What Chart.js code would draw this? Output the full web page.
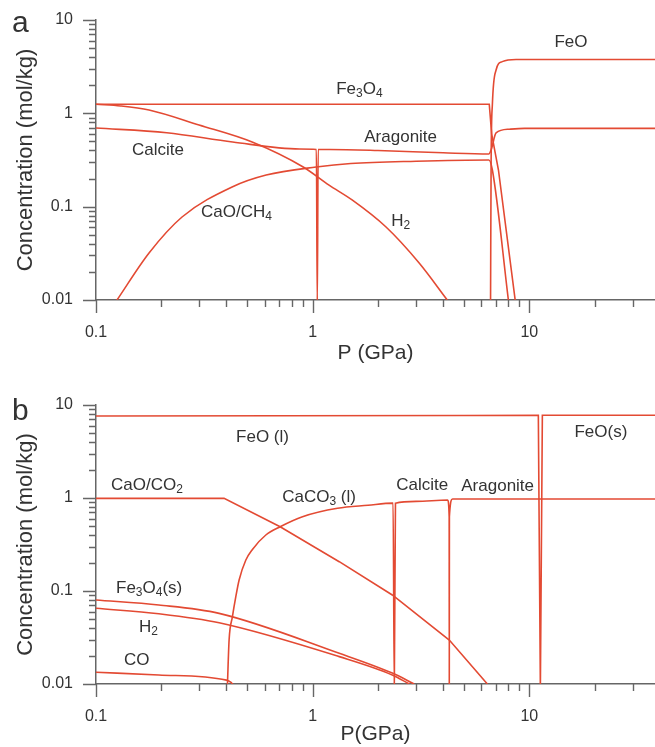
<!DOCTYPE html>
<html>
<head>
<meta charset="utf-8">
<script src="https://cdn.jsdelivr.net/npm/chart.js@4.4.0/dist/chart.umd.min.js"></script>
<style>
body { margin: 0; background: #fff; }
canvas { position: absolute; left: 0; }
#ca { top: 0; }
#cb { top: 372px; }
</style>
</head>
<body>
<canvas id="ca" width="655" height="372"></canvas>
<canvas id="cb" width="655" height="375"></canvas>
<script>
// axis ticks
var xTickVals = [0.1, 0.2, 0.3, 0.4, 0.5, 0.6, 0.7, 0.8, 0.9, 1, 2, 3, 4, 5, 6, 7, 8, 9, 10, 20, 30];
var xMajorVals = [0.1, 1, 10];
var xMajorText = ['0.1', '1', '10'];
var yTickVals = [0.01, 0.02, 0.03, 0.04, 0.05, 0.06, 0.07, 0.08, 0.09, 0.1, 0.2, 0.3, 0.4, 0.5, 0.6, 0.7, 0.8, 0.9, 1, 2, 3, 4, 5, 6, 7, 8, 9, 10];
var yMajorVals = [0.01, 0.1, 1, 10];
var yMajorText = ['0.01', '0.1', '1', '10'];

// panel a  (P in GPa, concentration in mol/kg)
var aFe3O4P = [0.1, 1, 6.53, 6.7, 7.2, 8.6];
var aFe3O4C = [1.25, 1.25, 1.25, 0.6, 0.247, 0.01];
var aH2P = [0.1, 0.13, 0.1757, 0.299, 0.5255, 0.904, 1.19, 1.52, 2.18, 3.1, 4.18];
var aH2C = [1.25, 1.2, 1.086, 0.75, 0.493, 0.266, 0.17, 0.118, 0.0605, 0.0249, 0.01];
var aCalciteP = [0.1, 0.212, 0.427, 0.87, 1.04, 1.05, 1.06, 1.2, 2, 4, 6.5, 6.67, 7.02, 8.08, 9.5, 38];
var aCalciteC = [0.697, 0.62, 0.493, 0.415, 0.41, 0.009, 0.41, 0.41, 0.4, 0.378, 0.367, 0.41, 0.616, 0.676, 0.69, 0.69];
var aCaOCH4P = [0.125, 0.1757, 0.2495, 0.4247, 0.61, 1.038, 1.5, 3, 6.5, 6.75, 8.0];
var aCaOCH4C = [0.01, 0.0319, 0.0775, 0.1625, 0.218, 0.266, 0.29, 0.307, 0.316, 0.247, 0.01];
var aFeOP = [6.62, 6.66, 6.75, 7.02, 7.5, 8.68, 38];
var aFeOC = [0.01, 0.3, 1.25, 2.91, 3.58, 3.77, 3.77];

var aLabelText = ['Fe_3O_4', 'FeO', 'Aragonite', 'Calcite', 'CaO/CH_4', 'H_2'];
var aLabelP = [1.284, 13.05, 1.73, 0.1467, 0.3055, 2.305];
var aLabelC = [1.82, 5.81, 0.558, 0.4046, 0.0877, 0.0702];

// panel b
var bFeOP = [0.1, 5, 11.0, 11.24, 11.48, 38];
var bFeOC = [7.62, 7.7, 7.75, 0.009, 7.75, 7.76];
var bCaOCO2P = [0.1, 0.39, 0.7077, 1.326, 2.33, 4.27, 6.4];
var bCaOCO2C = [0.99, 0.99, 0.491, 0.2066, 0.0906, 0.0297, 0.01];
var bCaCO3P = [0.404, 0.4114, 0.4262, 0.4418, 0.4576, 0.4915, 0.5272, 0.6078, 0.7077, 0.8973, 1.302, 1.8, 2.35, 2.38, 2.41, 3.0, 4.195, 4.265, 4.27, 4.275, 4.42, 38];
var bCaCO3C = [0.0095, 0.0297, 0.0529, 0.0868, 0.1313, 0.2154, 0.28, 0.40, 0.491, 0.629, 0.775, 0.835, 0.88, 0.009, 0.88, 0.92, 0.95, 0.63, 0.009, 0.63, 0.975, 0.975];
var bFe3O4P = [0.1, 0.195, 0.37, 1.326, 2.33, 2.94];
var bFe3O4C = [0.08, 0.0708, 0.0575, 0.0214, 0.0131, 0.01];
var bH2P = [0.1, 0.195, 0.37, 1.326, 2.33, 2.79];
var bH2C = [0.0652, 0.057, 0.0456, 0.0197, 0.0125, 0.01];
var bCOP = [0.1, 0.195, 0.4, 0.42, 0.43];
var bCOC = [0.01337, 0.0125, 0.011, 0.0104, 0.0098];

var bLabelText = ['FeO (l)', 'FeO(s)', 'CaO/CO_2', 'CaCO_3 (l)', 'Calcite', 'Aragonite', 'Fe_3O_4(s)', 'H_2', 'CO'];
var bLabelP = [0.443, 16.14, 0.1173, 0.723, 2.43, 4.85, 0.1237, 0.158, 0.1347];
var bLabelC = [4.53, 5.12, 1.38, 1.025, 1.38, 1.346, 0.1077, 0.041, 0.0181];

var RED = '#e34a33';
var GREY = '#666';
var INK = '#333';
var FONT = '"Liberation Sans", Arial, Helvetica, sans-serif';

function pts(P, C) {
  return P.map(function (p, i) { return {x: p, y: C[i]}; });
}
function isDecade(v) {
  var l = Math.log10(v);
  return Math.abs(l - Math.round(l)) < 1e-6;
}

// text with "_x" meaning subscript x
function drawRich(ctx, text, x, y) {
  var i = 0;
  while (i < text.length) {
    var ch = text[i];
    if (ch === '_' && i + 1 < text.length) {
      ctx.font = '12px ' + FONT;
      ctx.fillText(text[i + 1], x, y + 5);
      x += ctx.measureText(text[i + 1]).width;
      i += 2;
    } else {
      ctx.font = '17px ' + FONT;
      ctx.fillText(ch, x, y);
      x += ctx.measureText(ch).width;
      i++;
    }
  }
}

var decor = {
  id: 'decor',
  afterDraw: function (chart, args, opts) {
    var ctx = chart.ctx;
    var xs = chart.scales.x, ys = chart.scales.y, area = chart.chartArea;
    ctx.save();
    ctx.strokeStyle = GREY;
    ctx.lineWidth = 1.4;
    ctx.beginPath();
    xs.ticks.forEach(function (t) {
      var px = Math.round(xs.getPixelForValue(t.value)) + 0.5;
      var len = isDecade(t.value) ? 13 : 7;
      ctx.moveTo(px, area.bottom);
      ctx.lineTo(px, area.bottom + len);
    });
    ys.ticks.forEach(function (t) {
      var py = Math.round(ys.getPixelForValue(t.value)) + 0.5;
      var len = isDecade(t.value) ? 13 : 7;
      ctx.moveTo(area.left, py);
      ctx.lineTo(area.left - len, py);
    });
    ctx.stroke();

    ctx.fillStyle = INK;
    ctx.textAlign = 'left';
    ctx.textBaseline = 'middle';
    for (var i = 0; i < opts.text.length; i++) {
      drawRich(ctx, opts.text[i], xs.getPixelForValue(opts.P[i]), ys.getPixelForValue(opts.C[i]));
    }
    ctx.textBaseline = 'alphabetic';
    ctx.font = '30px ' + FONT;
    ctx.fillText(opts.letter, 12, opts.letterY);
    ctx.restore();
  }
};

function makeChart(id, sets, lab, o) {
  var ctx = document.getElementById(id).getContext('2d');
  return new Chart(ctx, {
    type: 'scatter',
    data: {
      datasets: sets.map(function (s) {
        return {
          data: pts(s[0], s[1]),
          showLine: true,
          borderColor: RED,
          borderWidth: 1.6,
          pointRadius: 0,
          tension: 0,
          cubicInterpolationMode: s[2] ? 'monotone' : 'default'
        };
      })
    },
    options: {
      responsive: false,
      animation: false,
      layout: { padding: { top: o.top, left: 0, right: 0, bottom: 0 } },
      plugins: {
        legend: { display: false },
        tooltip: { enabled: false },
        decor: { text: lab[0], P: lab[1], C: lab[2], letter: o.letter, letterY: o.letterY }
      },
      scales: {
        x: {
          type: 'logarithmic',
          min: 0.1,
          max: 38,
          afterBuildTicks: function (s) {
            s.ticks = xTickVals.map(function (v) { return {value: v, major: isDecade(v)}; });
          },
          afterFit: function (s) {
            s.height = o.xh;
            s.paddingLeft = 0;
            s.paddingRight = 0;
          },
          grid: { display: false, drawTicks: false },
          border: { display: true, color: GREY, width: 1.5 },
          ticks: {
            autoSkip: false, maxRotation: 0, padding: 23, color: INK,
            font: { family: FONT, size: 16 },
            callback: function (v) {
              var k = xMajorVals.indexOf(v);
              return k >= 0 ? xMajorText[k] : '';
            }
          },
          title: {
            display: true, text: o.xTitle, color: INK,
            font: { family: FONT, size: 21 },
            padding: { top: 0, bottom: o.titlePad }
          }
        },
        y: {
          type: 'logarithmic',
          min: 0.01,
          max: 10,
          afterBuildTicks: function (s) {
            s.ticks = yTickVals.map(function (v) { return {value: v, major: isDecade(v)}; });
          },
          afterFit: function (s) {
            s.width = 96;
            s.paddingTop = 0;
            s.paddingBottom = 0;
          },
          grid: { display: false, drawTicks: false },
          border: { display: true, color: GREY, width: 1.5 },
          ticks: {
            autoSkip: false, padding: 23, color: INK,
            font: { family: FONT, size: 16 },
            callback: function (v) {
              var k = yMajorVals.indexOf(v);
              return k >= 0 ? yMajorText[k] : '';
            }
          },
          title: {
            display: true, text: 'Concentration (mol/kg)', color: INK,
            font: { family: FONT, size: 22 },
            padding: { top: 13, bottom: 0 }
          }
        }
      }
    },
    plugins: [decor]
  });
}

makeChart('ca', [
  [aFe3O4P, aFe3O4C, false],
  [aH2P, aH2C, true],
  [aCalciteP, aCalciteC, true],
  [aCaOCH4P, aCaOCH4C, true],
  [aFeOP, aFeOC, true]
], [aLabelText, aLabelP, aLabelC],
{ top: 20, xh: 72, titlePad: 6, xTitle: 'P (GPa)', letter: 'a', letterY: 32 });

makeChart('cb', [
  [bFeOP, bFeOC, false],
  [bCaOCO2P, bCaOCO2C, false],
  [bCaCO3P, bCaCO3C, true],
  [bFe3O4P, bFe3O4C, true],
  [bH2P, bH2C, true],
  [bCOP, bCOC, true]
], [bLabelText, bLabelP, bLabelC],
{ top: 33, xh: 63, titlePad: 0, xTitle: 'P(GPa)', letter: 'b', letterY: 48 });
</script>
</body>
</html>
